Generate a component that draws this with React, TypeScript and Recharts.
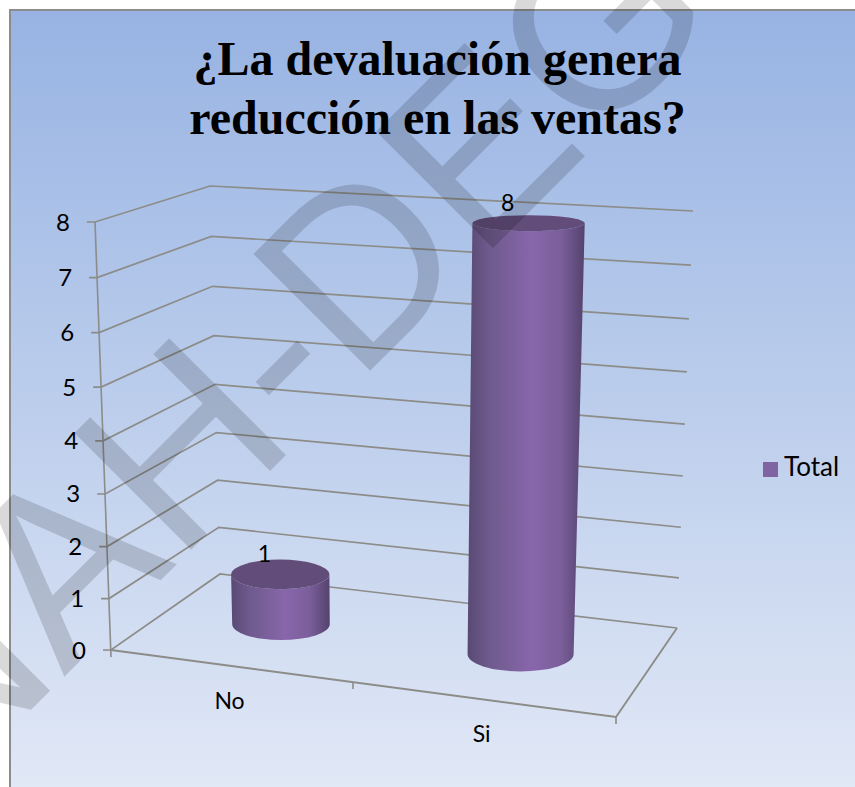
import React from 'react';
import { BarChart, Bar, XAxis, YAxis, Legend, LabelList, CartesianGrid } from 'recharts';

const categories = ['No', 'Si'];
const totals = [1, 8];
const yTicks = [0, 1, 2, 3, 4, 5, 6, 7, 8];
const titleLines = ['¿La devaluación genera', 'reducción en las ventas?'];

const chartData = categories.map((name, i) => ({ name, Total: totals[i] }));

const WIDTH = 855;
const HEIGHT = 787;
const MARGIN = 60;
const PLOT = { left: MARGIN, top: MARGIN, width: WIDTH - 2 * MARGIN, height: HEIGHT - 2 * MARGIN };

const LABEL_FONT = 'Lato, "Open Sans", sans-serif';
const LINE = '#8c8c88';

// measured corners of the 3D box (floor and top, front/back, left/right)
const BOX = {
  floor: { fl: [111, 650], fr: [616, 717], bl: [220, 574], br: [677, 628] },
  top: { fl: [95, 222], fr: [631, 252], bl: [210, 186], br: [693, 211] },
};

const warp = (a: number, k: number) => (a * (1 + k)) / (1 + k * a);
const mix = (a: number, b: number, f: number) => a + (b - a) * f;

// u: along the categories, t: up the value axis, w: depth (0 front, 1 back)
const project = (u: number, t: number, w: number) => {
  const pu = warp(u, -0.08);
  const pt = warp(t, -0.044);
  const axis = (i: number) => {
    const level = (c: any) =>
      mix(mix(c.fl[i], c.fr[i], pu), mix(c.bl[i], c.br[i], pu), w);
    return mix(level(BOX.floor), level(BOX.top), pt);
  };
  return { x: axis(0), y: axis(1) };
};

const toU = (x: number) => (x - PLOT.left) / PLOT.width;
const toT = (y: number) => (PLOT.top + PLOT.height - y) / PLOT.height;

const BAR_DEPTH = 0.525;
const BAR_DEPTH_RADIUS = 0.2;

const pts = (list: { x: number; y: number }[]) => list.map((p) => `${p.x},${p.y}`).join(' ');

// grid runs under the bars, so the walls and floor are drawn from here
const WallLine = ({ y1 }: any) => {
  const t = toT(y1);
  const front = project(0, t, 0);
  const backLeft = project(0, t, 1);
  const backRight = project(1, t, 1);
  const floorFront = project(0, 0, 0);
  const floorRight = project(1, 0, 0);
  const topFront = project(0, 1, 0);
  return (
    <g>
      <polyline
        points={pts([{ x: front.x - 8, y: front.y }, front, backLeft, backRight])}
        fill="none"
        stroke={LINE}
        strokeWidth={1.7}
      />
      {Math.abs(t) < 0.001 && (
        <g>
          <line x1={topFront.x} y1={topFront.y} x2={floorFront.x} y2={floorFront.y + 7} stroke={LINE} strokeWidth={1.6} />
          <polyline points={pts([floorFront, floorRight, backRight])} fill="none" stroke={LINE} strokeWidth={1.9} />
        </g>
      )}
    </g>
  );
};

const YTick = ({ y, payload }: any) => {
  const front = project(0, toT(y), 0);
  return (
    <text x={front.x - 25} y={front.y + 8.5} textAnchor="end" fontFamily={LABEL_FONT} fontSize={24} fill="#000">
      {payload.value}
    </text>
  );
};

const XTick = ({ x, payload }: any) => {
  const bandEnd = toU(x) + 0.25;
  const anchor = project(toU(x), 0, 0);
  const mark = project(bandEnd, 0, 0);
  return (
    <g>
      <line x1={mark.x} y1={mark.y} x2={mark.x} y2={mark.y + 7} stroke={LINE} strokeWidth={1.6} />
      <text x={anchor.x} y={anchor.y + 43} textAnchor="middle" fontFamily={LABEL_FONT} fontSize={23} fill="#000">
        {payload.value}
      </text>
    </g>
  );
};

const Cylinder = ({ x, y, width }: any) => {
  const u = toU(x + width / 2);
  const du = width / 2 / PLOT.width;
  const t = toT(y);
  const ellipseAt = (level: number) => {
    const c = project(u, level, BAR_DEPTH);
    const rx = (project(u + du, level, BAR_DEPTH).x - project(u - du, level, BAR_DEPTH).x) / 2;
    const ry =
      (project(u, level, BAR_DEPTH - BAR_DEPTH_RADIUS).y - project(u, level, BAR_DEPTH + BAR_DEPTH_RADIUS).y) / 2;
    return { cx: c.x, cy: c.y, rx, ry };
  };
  const base = ellipseAt(0);
  const top = ellipseAt(t);
  const body = [
    `M${top.cx - top.rx},${top.cy}`,
    `L${base.cx - base.rx},${base.cy}`,
    `A${base.rx},${base.ry} 0 0 0 ${base.cx + base.rx},${base.cy}`,
    `L${top.cx + top.rx},${top.cy}`,
    `A${top.rx},${top.ry} 0 0 1 ${top.cx - top.rx},${top.cy}`,
    'Z',
  ].join(' ');
  return (
    <g>
      <path d={body} fill="url(#cylinderSide)" />
      <ellipse cx={top.cx} cy={top.cy} rx={top.rx} ry={top.ry} fill="#624c7a" />
    </g>
  );
};

const BarValue = ({ x, y, width, value }: any) => {
  const t = toT(y);
  const p = project(toU(x + width / 2), t, BAR_DEPTH);
  return (
    <text x={p.x - 15 - 6 * t} y={p.y - 12} textAnchor="middle" fontFamily={LABEL_FONT} fontSize={23} fill="#000">
      {value}
    </text>
  );
};

export default function App() {
  return (
    <div style={{ position: 'absolute', left: 0, top: 0, width: WIDTH, height: HEIGHT, overflow: 'hidden', background: '#fff' }}>
      <div
        style={{
          position: 'absolute',
          left: 9,
          top: 9,
          width: WIDTH - 9,
          height: HEIGHT - 9,
          boxSizing: 'border-box',
          borderLeft: '2px solid #8c8c8c',
          borderTop: '2px solid #8c8c8c',
          background: 'linear-gradient(180deg, #98b3e3 0%, #b4c8ea 40%, #e1e8f6 100%)',
        }}
      />
      <div
        style={{
          position: 'absolute',
          left: 0,
          top: 29,
          width: 875,
          textAlign: 'center',
          fontFamily: '"Liberation Serif", serif',
          fontWeight: 700,
          fontSize: 48,
          lineHeight: '59px',
          color: '#000',
        }}
      >
        {titleLines.map((line) => (
          <div key={line}>{line}</div>
        ))}
      </div>
      <div style={{ position: 'absolute', left: 0, top: 0 }}>
        <BarChart
          width={WIDTH}
          height={HEIGHT}
          data={chartData}
          margin={{ top: MARGIN, right: MARGIN, bottom: 0, left: 0 }}
        >
          <defs>
            <linearGradient id="cylinderSide" x1="0" y1="0" x2="1" y2="0">
              <stop offset="0%" stopColor="#594974" />
              <stop offset="18%" stopColor="#6e5a8c" />
              <stop offset="55%" stopColor="#8866ab" />
              <stop offset="80%" stopColor="#7a5e9a" />
              <stop offset="100%" stopColor="#54436d" />
            </linearGradient>
          </defs>
          <CartesianGrid vertical={false} horizontal={(props: any) => <WallLine key={props.index} {...props} />} />
          <XAxis dataKey="name" height={MARGIN} axisLine={false} tickLine={false} interval={0} tick={<XTick />} />
          <YAxis
            width={MARGIN}
            domain={[0, 8]}
            ticks={yTicks}
            interval={0}
            axisLine={false}
            tickLine={false}
            tick={<YTick />}
          />
          <Legend
            layout="horizontal"
            align="center"
            verticalAlign="middle"
            iconType="square"
            iconSize={15}
            formatter={(value: string) => (
              <span style={{ color: '#000', fontFamily: LABEL_FONT, fontSize: 26, marginLeft: 2, position: 'relative', top: 3 }}>
                {value}
              </span>
            )}
            wrapperStyle={{ left: 760, right: 'auto', top: 447, width: 92 }}
          />
          <Bar dataKey="Total" fill="#8064a2" barSize={156} shape={<Cylinder />} isAnimationActive={false}>
            <LabelList dataKey="Total" content={<BarValue />} />
          </Bar>
        </BarChart>
      </div>
      <svg width={WIDTH} height={HEIGHT} style={{ position: 'absolute', left: 0, top: 0, pointerEvents: 'none' }}>
        <text
          transform="rotate(-45)"
          x={-780}
          y={524}
          fontFamily='"Liberation Sans", sans-serif'
          fontSize={240}
          fill="rgba(0,0,0,0.15)"
        >
          UNAH-DEG
        </text>
      </svg>
    </div>
  );
}
